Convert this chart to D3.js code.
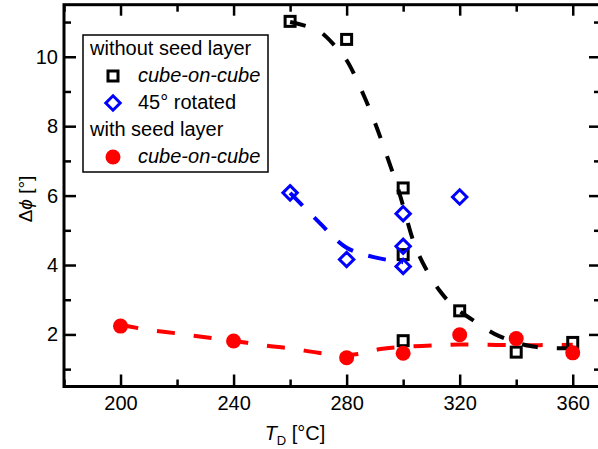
<!DOCTYPE html>
<html>
<head>
<meta charset="utf-8">
<script src="https://cdn.jsdelivr.net/npm/d3@7/dist/d3.min.js"></script>
<style>
  html, body { margin: 0; padding: 0; background: #fff; }
  svg { display: block; }
  text { font-family: "Liberation Sans", Arial, sans-serif; }
</style>
</head>
<body>
<svg id="chart" width="598" height="449"></svg>
<script>
// ---------- data ----------
const xTicks = [200, 240, 280, 320, 360];
const xMinorTicks = [180, 220, 260, 300, 340];
const yTicks = [2, 4, 6, 8, 10];
const yMinorTicks = [1, 3, 5, 7, 9, 11];

// without seed layer, cube-on-cube
const noSeedCubeT   = [260, 280, 300, 300, 300, 320, 340, 360];
const noSeedCubeDph = [11.02, 10.5, 6.22, 4.3, 1.82, 2.68, 1.49, 1.77];
// without seed layer, 45° rotated
const noSeedRotT   = [260, 280, 300, 300, 300, 320];
const noSeedRotDph = [6.08, 4.16, 5.48, 4.54, 3.96, 5.96];
// with seed layer, cube-on-cube
const seedCubeT   = [200, 240, 280, 300, 320, 340, 360];
const seedCubeDph = [2.24, 1.81, 1.33, 1.46, 1.99, 1.88, 1.47];

// guide-to-the-eye curves
const fitBlackT   = [260, 270, 276, 280, 286, 290, 294, 298, 300, 304, 308, 313, 318, 324, 334, 346, 360];
const fitBlackDph = [11.0, 10.75, 10.3, 9.9, 8.9, 8.1, 7.2, 6.25, 5.7, 4.6, 3.9, 3.25, 2.8, 2.45, 1.95, 1.65, 1.6];
const fitBlueT   = [260, 270, 280, 290, 300];
const fitBlueDph = [6.08, 5.25, 4.5, 4.22, 4.08];
const fitRedT   = [200, 210, 220, 230, 240, 250, 260, 270, 278, 285, 292, 300, 310, 320, 340, 360];
const fitRedDph = [2.28, 2.13, 2.03, 1.92, 1.82, 1.69, 1.6, 1.47, 1.4, 1.45, 1.58, 1.64, 1.68, 1.71, 1.69, 1.7];

const legendRows = [
  { label: "without seed layer", marker: null, italic: false },
  { label: "cube-on-cube", marker: "square", italic: true },
  { label: "45\u00B0 rotated", marker: "diamond", italic: false },
  { label: "with seed layer", marker: null, italic: false },
  { label: "cube-on-cube", marker: "circle", italic: true }
];

// ---------- layout ----------
const svg = d3.select("#chart");
const L = 64, R = 601, T = 4.7, B = 386.5;
const x = d3.scaleLinear().domain([180, 370]).range([L, R]);
const y = d3.scaleLinear().domain([0.5, 11.5]).range([B, T]);

const black = "#000", blue = "#0000ff", red = "#ff0000";
const FS = 20;

// ---------- curves ----------
const line = d3.line().curve(d3.curveCatmullRom.alpha(0.5));
function drawCurve(ts, vs, color, dash) {
  svg.append("path")
    .attr("d", line(ts.map((t, i) => [x(t), y(vs[i])])))
    .attr("fill", "none")
    .attr("stroke", color)
    .attr("stroke-width", 4)
    .attr("stroke-dasharray", dash);
}
drawCurve(fitRedT, fitRedDph, red, "18,19");
drawCurve(fitBlueT, fitBlueDph, blue, "18,16");
drawCurve(fitBlackT, fitBlackDph, black, "16,19");

// ---------- markers ----------
function square(g, cx, cy) {
  g.append("rect").attr("x", cx - 5).attr("y", cy - 5).attr("width", 10).attr("height", 10)
    .attr("fill", "none").attr("stroke", black).attr("stroke-width", 3);
}
function diamond(g, cx, cy) {
  const h = 7.2;
  g.append("path").attr("d", `M${cx},${cy - h}L${cx + h},${cy}L${cx},${cy + h}L${cx - h},${cy}Z`)
    .attr("fill", "none").attr("stroke", blue).attr("stroke-width", 3);
}
function circle(g, cx, cy) {
  g.append("circle").attr("cx", cx).attr("cy", cy).attr("r", 7.5).attr("fill", red);
}
const gm = svg.append("g");
noSeedCubeT.forEach((t, i) => square(gm, x(t), y(noSeedCubeDph[i])));
noSeedRotT.forEach((t, i) => diamond(gm, x(t), y(noSeedRotDph[i])));
seedCubeT.forEach((t, i) => circle(gm, x(t), y(seedCubeDph[i])));

// ---------- axes ----------
function styleAxis(g) {
  g.select(".domain").remove();
  g.selectAll(".tick line").attr("stroke", black).attr("stroke-width", 2.5);
  g.selectAll(".tick text").attr("fill", black).style("font-size", FS + "px")
    .style("font-family", '"Liberation Sans", Arial, sans-serif');
}
svg.append("g").attr("transform", `translate(0,${B})`)
  .call(d3.axisBottom(x).tickValues(xTicks).tickSize(-12).tickPadding(9).tickFormat(d3.format("d")))
  .call(styleAxis);
svg.append("g").attr("transform", `translate(0,${B})`)
  .call(d3.axisBottom(x).tickValues(xMinorTicks).tickSize(-7).tickFormat(""))
  .call(styleAxis);
svg.append("g").attr("transform", `translate(0,${T})`)
  .call(d3.axisTop(x).tickValues(xTicks).tickSize(-11).tickFormat(""))
  .call(styleAxis);
svg.append("g").attr("transform", `translate(0,${T})`)
  .call(d3.axisTop(x).tickValues(xMinorTicks).tickSize(-7).tickFormat(""))
  .call(styleAxis);
svg.append("g").attr("transform", `translate(${L},0)`)
  .call(d3.axisLeft(y).tickValues(yTicks).tickSize(-12).tickPadding(6).tickFormat(d3.format("d")))
  .call(styleAxis);
svg.append("g").attr("transform", `translate(${L},0)`)
  .call(d3.axisLeft(y).tickValues(yMinorTicks).tickSize(-7).tickFormat(""))
  .call(styleAxis);
svg.append("g").attr("transform", `translate(${R},0)`)
  .call(d3.axisRight(y).tickValues(yTicks).tickSize(-12).tickFormat(""))
  .call(styleAxis);
svg.append("g").attr("transform", `translate(${R},0)`)
  .call(d3.axisRight(y).tickValues(yMinorTicks).tickSize(-7).tickFormat(""))
  .call(styleAxis);

// frame
svg.append("rect").attr("x", L).attr("y", T).attr("width", R - L).attr("height", B - T)
  .attr("fill", "none").attr("stroke", black).attr("stroke-width", 3);

// ---------- axis titles ----------
const xt = svg.append("text").attr("x", 295).attr("y", 440).attr("text-anchor", "middle")
  .style("font-size", FS + "px").attr("fill", black);
xt.append("tspan").style("font-style", "italic").text("T");
xt.append("tspan").attr("dy", 5).style("font-size", "13px").text("D");
xt.append("tspan").attr("dy", -5).text(" [\u00B0C]");

const yt = svg.append("text").attr("transform", "translate(32,199) rotate(-90)")
  .attr("text-anchor", "middle").style("font-size", "19px").attr("fill", black);
yt.append("tspan").text("\u0394");
yt.append("tspan").style("font-style", "italic").text("\u03D5");
yt.append("tspan").text(" [\u00B0]");

// ---------- legend ----------
const lg = svg.append("g");
lg.append("rect").attr("x", 83).attr("y", 35).attr("width", 185).attr("height", 137)
  .attr("fill", "#fff").attr("stroke", black).attr("stroke-width", 1.5);
legendRows.forEach((r, i) => {
  const base = 55 + i * 27;
  const tx = r.marker ? 138 : 90;
  lg.append("text").attr("x", tx).attr("y", base).style("font-size", FS + "px")
    .style("font-style", r.italic ? "italic" : "normal").attr("fill", black).text(r.label);
  const cy = base - 6;
  if (r.marker === "square") square(lg, 113, cy);
  if (r.marker === "diamond") diamond(lg, 113, cy);
  if (r.marker === "circle") circle(lg, 113, cy);
});
</script>
</body>
</html>
